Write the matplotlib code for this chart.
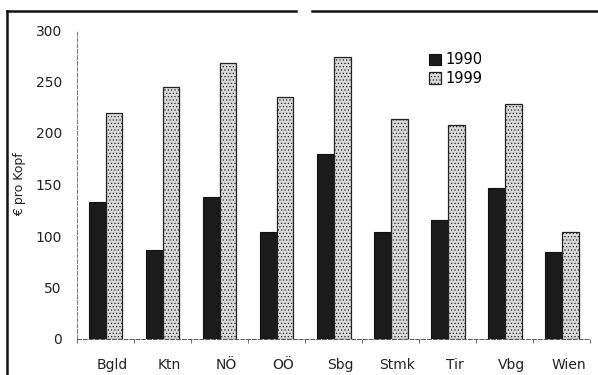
import numpy as np
import matplotlib.pyplot as plt
from matplotlib.lines import Line2D

# Data
regions = ['Bgld', 'Ktn', 'NÖ', 'OÖ', 'Sbg', 'Stmk', 'Tir', 'Vbg', 'Wien']
values_1990 = [133, 86, 138, 104, 180, 104, 116, 147, 84]
values_1999 = [219, 245, 268, 235, 274, 214, 208, 228, 104]
y_ticks = [0, 50, 100, 150, 200, 250, 300]

plt.rcParams['hatch.color'] = '#b5b5b5'
plt.rcParams['hatch.linewidth'] = 0.5

fig = plt.figure(figsize=(5.98, 3.75), dpi=100)
ax = fig.add_axes([0.129, 0.096, 0.858, 0.824])

x = np.arange(len(regions))
w = 0.295
ax.bar(x - w / 2, values_1990, width=w, color='#1b1b1b', edgecolor='#111111',
       linewidth=0.8, label='1990')
ax.bar(x + w / 2, values_1999, width=w, color='#dadada', edgecolor='#222222',
       linewidth=0.9, hatch='.....', label='1999')

ax.set_xlim(-0.49, 8.5)
ax.set_ylim(0, 300)
ax.set_yticks(y_ticks)
ax.set_yticklabels([str(v) for v in y_ticks], fontsize=10, color='#222222')
ax.set_xticks(x + 0.12)
ax.set_xticklabels(regions, fontsize=10, color='#222222')
ax.set_xticks(np.arange(len(regions) + 1) - 0.5, minor=True)
ax.tick_params(axis='x', which='major', length=0, pad=14)
ax.tick_params(axis='x', which='minor', length=3, color='#555555', width=0.6)
ax.tick_params(axis='y', length=0, pad=11)

for side in ['top', 'right']:
    ax.spines[side].set_visible(False)
ax.spines['left'].set_linestyle((0, (4, 2)))
ax.spines['left'].set_color('#777777')
ax.spines['left'].set_linewidth(0.7)
ax.spines['bottom'].set_linestyle((0, (4, 2)))
ax.spines['bottom'].set_color('#555555')
ax.spines['bottom'].set_linewidth(0.7)

ax.set_ylabel('€ pro Kopf', fontsize=9, color='#222222', labelpad=7)

ax.legend(loc='upper left', bbox_to_anchor=(0.66, 0.97), frameon=False,
          fontsize=10.5, handlelength=0.8, handleheight=0.8, handletextpad=0.3,
          labelspacing=0.25)

# page frame from the scan
fig.add_artist(Line2D([0.012, 0.012], [0.0, 0.97], color='#111111', linewidth=1.8))
fig.add_artist(Line2D([0.012, 0.495], [0.97, 0.97], color='#111111', linewidth=1.8))
fig.add_artist(Line2D([0.522, 1.0], [0.97, 0.97], color='#111111', linewidth=1.8))

fig.savefig('out.png', dpi=100)
